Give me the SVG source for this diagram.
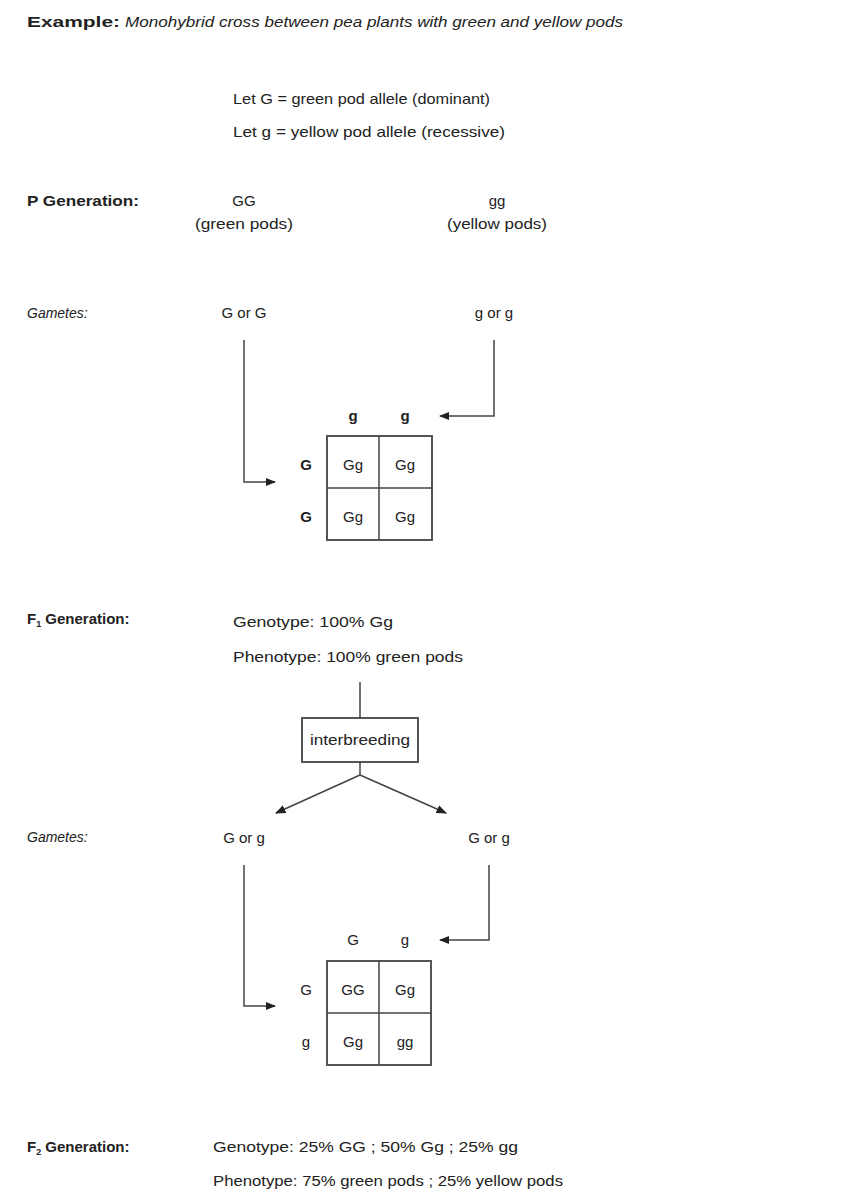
<svg xmlns="http://www.w3.org/2000/svg" width="859" height="1200" viewBox="0 0 859 1200" font-size="15">
<style>
text{font-family:"Liberation Sans",Arial,sans-serif;fill:#222}
.b{font-weight:bold}
.i{font-style:italic}
.m{text-anchor:middle}
.ln{fill:none;stroke:#444;stroke-width:1.5}
.bx{fill:#fff;stroke:#555;stroke-width:2}
</style>
<defs><marker id="a" viewBox="0 0 10 10" refX="9" refY="5" markerWidth="7" markerHeight="7" orient="auto"><path d="M0,1L10,5L0,9z" fill="#222"/></marker></defs>
<rect width="859" height="1200" fill="#fff"/>
<g id="header">
<text x="27" y="27" class="b" textLength="93" lengthAdjust="spacingAndGlyphs">Example:</text>
<text x="125" y="27" class="i" textLength="498" lengthAdjust="spacingAndGlyphs">Monohybrid cross between pea plants with green and yellow pods</text>
<text x="233" y="104" textLength="257" lengthAdjust="spacingAndGlyphs">Let G = green pod allele (dominant)</text>
<text x="233" y="137" textLength="272" lengthAdjust="spacingAndGlyphs">Let g = yellow pod allele (recessive)</text>
</g>
<g id="pgen">
<text x="27" y="206" class="b" textLength="112" lengthAdjust="spacingAndGlyphs">P Generation:</text>
<text x="244" y="206" class="m">GG</text>
<text x="244" y="229" class="m" textLength="98" lengthAdjust="spacingAndGlyphs">(green pods)</text>
<text x="497" y="206" class="m">gg</text>
<text x="497" y="229" class="m" textLength="100" lengthAdjust="spacingAndGlyphs">(yellow pods)</text>
</g>
<g id="gametes1">
<text x="27" y="318" class="i" font-size="14">Gametes:</text>
<text x="244" y="318" class="m">G or G</text>
<text x="494" y="318" class="m">g or g</text>
</g>
<g id="punnett1">
<rect x="327" y="436" width="105" height="104" class="bx"/>
<path d="M379,436V540M327,488H432" class="ln" stroke-width="2"/>
<text x="353" y="421" class="m b">g</text><text x="405" y="421" class="m b">g</text>
<text x="306" y="470" class="m b">G</text><text x="306" y="522" class="m b">G</text>
<text x="353" y="470" class="m">Gg</text><text x="405" y="470" class="m">Gg</text>
<text x="353" y="522" class="m">Gg</text><text x="405" y="522" class="m">Gg</text>
</g>
<g id="f1">
<text x="27" y="624" class="b">F<tspan font-size="9" dy="3">1</tspan><tspan dy="-3"> Generation:</tspan></text>
<text x="233" y="627" textLength="160" lengthAdjust="spacingAndGlyphs">Genotype:  100% Gg</text>
<text x="233" y="662" textLength="230" lengthAdjust="spacingAndGlyphs">Phenotype:  100% green pods</text>
</g>
<g id="interbreeding">
<rect x="302" y="718" width="116" height="44" class="bx"/>
<text x="360" y="745" class="m" textLength="100" lengthAdjust="spacingAndGlyphs">interbreeding</text>
</g>
<g id="gametes2">
<text x="27" y="842" class="i" font-size="14">Gametes:</text>
<text x="244" y="843" class="m">G or g</text>
<text x="489" y="843" class="m">G or g</text>
</g>
<g id="punnett2">
<rect x="327" y="961" width="104" height="104" class="bx"/>
<path d="M379,961V1065M327,1013H431" class="ln" stroke-width="2"/>
<text x="353" y="945" class="m">G</text><text x="405" y="945" class="m">g</text>
<text x="306" y="995" class="m">G</text><text x="306" y="1047" class="m">g</text>
<text x="353" y="995" class="m">GG</text><text x="405" y="995" class="m">Gg</text>
<text x="353" y="1047" class="m">Gg</text><text x="405" y="1047" class="m">gg</text>
</g>
<g id="f2">
<text x="27" y="1152" class="b">F<tspan font-size="9" dy="3">2</tspan><tspan dy="-3"> Generation:</tspan></text>
<text x="213" y="1152" textLength="305" lengthAdjust="spacingAndGlyphs">Genotype:  25% GG ; 50% Gg ; 25% gg</text>
<text x="213" y="1186" textLength="350" lengthAdjust="spacingAndGlyphs">Phenotype:  75% green pods ; 25% yellow pods</text>
</g>
<g id="connectors">
<path d="M244,340V482H275" class="ln" marker-end="url(#a)"/>
<path d="M494,340V416H440" class="ln" marker-end="url(#a)"/>
<path d="M360,682V718M360,762V775" class="ln"/>
<path d="M360,775L276,813" class="ln" marker-end="url(#a)"/>
<path d="M360,775L446,813" class="ln" marker-end="url(#a)"/>
<path d="M244,865V1006H275" class="ln" marker-end="url(#a)"/>
<path d="M489,865V940H440" class="ln" marker-end="url(#a)"/>
</g>
</svg>
